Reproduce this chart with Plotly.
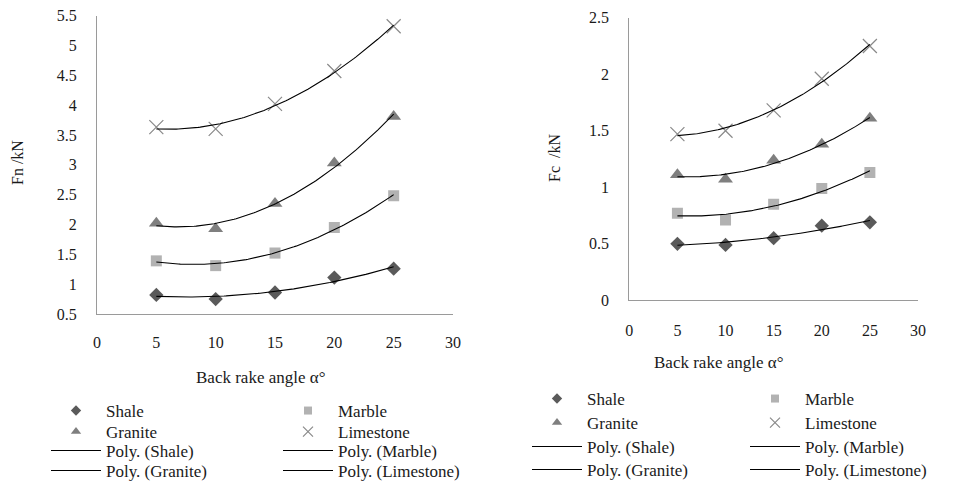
import numpy as np
import plotly.graph_objects as go

# ---------------- data ----------------
angles = [5, 10, 15, 20, 25]
rocks = ["Shale", "Marble", "Granite", "Limestone"]

fn_shale = [0.82, 0.75, 0.86, 1.11, 1.26]
fn_marble = [1.39, 1.31, 1.52, 1.95, 2.48]
fn_granite = [2.02, 1.93, 2.35, 3.03, 3.81]
fn_limestone = [3.63, 3.60, 4.02, 4.57, 5.32]

fc_shale = [0.50, 0.49, 0.55, 0.66, 0.69]
fc_marble = [0.77, 0.71, 0.85, 0.99, 1.13]
fc_granite = [1.11, 1.07, 1.24, 1.38, 1.61]
fc_limestone = [1.47, 1.50, 1.68, 1.96, 2.25]

x_ticks = [0, 5, 10, 15, 20, 25, 30]
fn_ticks = [0.5, 1, 1.5, 2, 2.5, 3, 3.5, 4, 4.5, 5, 5.5]
fc_ticks = [0, 0.5, 1, 1.5, 2, 2.5]

# ---------------- styles ----------------
FONT = "Liberation Serif, DejaVu Serif, serif"
TXT = "#1a1a1a"
AXC = "#9a9a9a"
marker_styles = {
    "Shale": dict(symbol="diamond", size=11, color="#5a5a5a"),
    "Marble": dict(symbol="square", size=11, color="#b2b2b2"),
    "Granite": dict(symbol="triangle-up", size=13, color="#7f7f7f"),
    "Limestone": dict(symbol="x-thin", size=14, color="#8a8a8a",
                      line=dict(width=1.2, color="#8a8a8a")),
}
legend_marker_scale = 0.72

fig = go.Figure()


def add_chart(series, xa, ya, legends):
    # graph markers (not in legend)
    for name, vals in zip(rocks, series):
        fig.add_trace(go.Scatter(
            x=angles, y=vals, mode="markers", name=name,
            marker=marker_styles[name], xaxis=xa, yaxis=ya,
            showlegend=False))
    # legend entries for the markers (smaller symbols, like the original)
    for i, name in enumerate(rocks):
        st = dict(marker_styles[name])
        st["size"] = round(st["size"] * legend_marker_scale)
        fig.add_trace(go.Scatter(
            x=[None], y=[None], mode="markers", name=name, marker=st,
            xaxis=xa, yaxis=ya, legend=legends[i // 2], showlegend=True,
            legendwidth=None if i % 2 == 0 else 140))
    # second order polynomial trend lines
    for i, (name, vals) in enumerate(zip(rocks, series)):
        coef = np.polyfit(angles, vals, 2)
        xs = np.linspace(min(angles), max(angles), 120)
        ys = np.polyval(coef, xs)
        fig.add_trace(go.Scatter(
            x=xs, y=ys, mode="lines", name=f"Poly. ({name})",
            line=dict(color="black", width=1.1), xaxis=xa, yaxis=ya,
            legend=legends[2 + i // 2], showlegend=True,
            legendwidth=None if i % 2 == 0 else 140))


add_chart([fn_shale, fn_marble, fn_granite, fn_limestone], "x", "y",
          ("legend", "legend2", "legend3", "legend4"))
add_chart([fc_shale, fc_marble, fc_granite, fc_limestone], "x2", "y2",
          ("legend5", "legend6", "legend7", "legend8"))

W, H = 954, 483


def axis_common():
    return dict(showgrid=False, zeroline=False, showline=True,
                linecolor=AXC, linewidth=1.3, ticks="outside",
                tickcolor="rgba(0,0,0,0)", automargin=False,
                tickfont=dict(family=FONT, size=16, color=TXT))


def legend_at(px_left, py_center, entry):
    return dict(x=px_left / W, y=1 - py_center / H, xanchor="left",
                yanchor="middle", orientation="h", bgcolor="rgba(0,0,0,0)",
                borderwidth=0, itemwidth=50, entrywidth=entry,
                font=dict(family=FONT, size=17, color=TXT),
                itemclick=False, itemdoubleclick=False)


def note(text, px, py, size, angle=0):
    return dict(text=text, x=px / W, y=1 - py / H, xref="paper", yref="paper",
                xanchor="center", yanchor="middle", textangle=angle,
                showarrow=False, font=dict(family=FONT, size=size, color=TXT))


layout = dict(
    width=W, height=H,
    margin=dict(l=0, r=0, t=0, b=0, autoexpand=False),
    font=dict(family=FONT, color=TXT),
    paper_bgcolor="white", plot_bgcolor="white",
    xaxis=dict(domain=[97 / W, 453 / W], range=[0, 30], tickvals=x_ticks,
               ticklen=14, anchor="y", **axis_common()),
    yaxis=dict(domain=[1 - 314 / H, 1 - 15.5 / H], range=[0.5, 5.5],
               tickvals=fn_ticks, ticklen=16, anchor="x", **axis_common()),
    xaxis2=dict(domain=[629.3 / W, 918 / W], range=[0, 30], tickvals=x_ticks,
                ticklen=15, anchor="y2", **axis_common()),
    yaxis2=dict(domain=[1 - 300.3 / H, 1 - 17.7 / H], range=[0, 2.5],
                tickvals=fc_ticks, ticklen=16, anchor="x2", **axis_common()),
    showlegend=True,
    annotations=[
        note("Fn /kN", 17, 163, 16, -90),
        note("Fc\u00a0\u00a0/kN", 554, 158, 16, -90),
        note("Back rake angle α°", 260, 377, 17),
        note("Back rake angle α°", 718, 362, 17),
    ],
)

left_rows = [411, 432, 451, 471]
right_rows = [399, 423, 447, 470]
for i, py in enumerate(left_rows):
    key = "legend" if i == 0 else f"legend{i + 1}"
    layout[key] = legend_at(46, py, 232 - 65)
for i, py in enumerate(right_rows):
    layout[f"legend{i + 5}"] = legend_at(527, py, 218 - 65)

fig.update_layout(**layout)
fig.write_html("out.html",
               config={"displayModeBar": False},
               post_script="document.body.style.margin='0';")
